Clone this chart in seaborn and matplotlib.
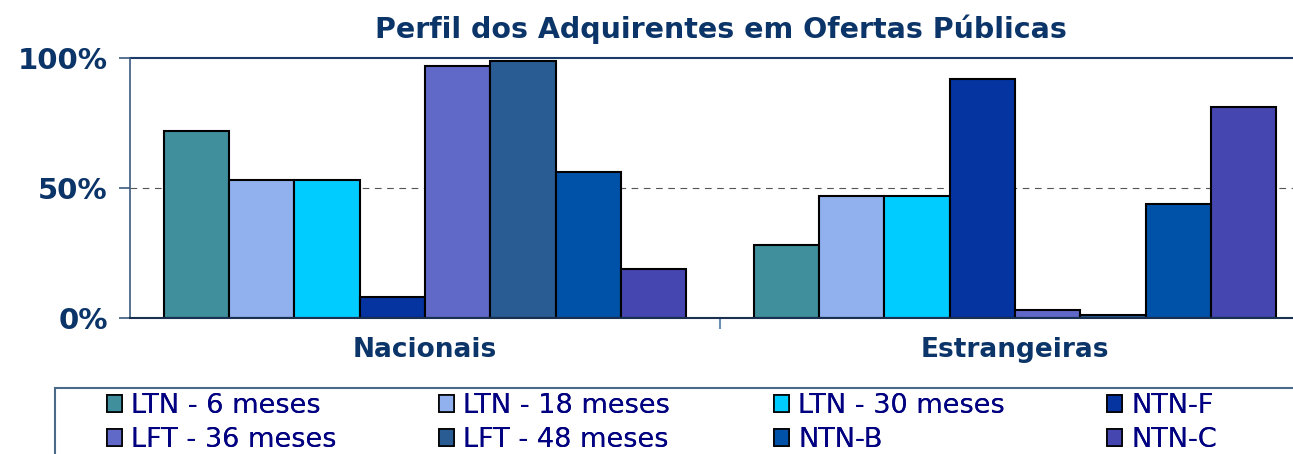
import pandas as pd
import matplotlib.pyplot as plt
import matplotlib.patches as mpatches
from matplotlib.ticker import PercentFormatter, FixedLocator
import seaborn as sns

# dados
grupos = ['Nacionais', 'Estrangeiras']
titulos = ['LTN - 6 meses', 'LTN - 18 meses', 'LTN - 30 meses', 'NTN-F',
           'LFT - 36 meses', 'LFT - 48 meses', 'NTN-B', 'NTN-C']
nacionais = [0.72, 0.53, 0.53, 0.08, 0.97, 0.99, 0.56, 0.19]
estrangeiras = [0.28, 0.47, 0.47, 0.92, 0.03, 0.01, 0.44, 0.81]
cores = ['#3f8f9c', '#90b0ee', '#00ccff', '#0533a0',
         '#6069c8', '#2a5c94', '#0052a8', '#4646b0']

df = pd.DataFrame({
    'grupo': [grupos[0]] * len(titulos) + [grupos[1]] * len(titulos),
    'titulo': titulos + titulos,
    'valor': nacionais + estrangeiras,
})

navy = '#0b3468'
sns.set_theme(style='white')
plt.rcParams['font.family'] = ['DejaVu Sans']

W, H = 1293, 454
fig = plt.figure(figsize=(W / 100, H / 100), dpi=100)
ax = fig.add_axes([130 / W, 1 - 318 / H, 1180 / W, 260 / H])

sns.barplot(data=df, x='grupo', y='valor', hue='titulo', hue_order=titulos,
            palette=cores, width=0.886, edgecolor='black', linewidth=1.5,
            saturation=1, legend=False, ax=ax)

ax.set_xlim(-0.5, 1.5)
ax.set_ylim(0, 1)
ax.set_yticks([0, 0.5, 1])
ax.yaxis.set_major_formatter(PercentFormatter(1.0, decimals=0))
ax.axhline(0.5, color='#555555', ls=(0, (6, 5)), lw=0.8, zorder=0)
ax.axhline(1.0, color='#1a3a6a', lw=1.5, clip_on=False, zorder=0)

for s in ['top', 'right']:
    ax.spines[s].set_visible(False)
ax.spines['left'].set_color('#3c5a80')
ax.spines['left'].set_linewidth(1.2)
ax.spines['bottom'].set_color('#1a3050')
ax.spines['bottom'].set_linewidth(1.5)

ax.tick_params(axis='y', which='major', direction='out', length=8, width=1.2,
               color='#3c5a80', left=True, pad=8,
               labelsize=21, labelcolor=navy)
for t in ax.get_yticklabels():
    t.set_fontweight('bold')
ax.tick_params(axis='x', which='major', length=0, pad=14,
               labelsize=19, labelcolor=navy)
for t in ax.get_xticklabels():
    t.set_fontweight('bold')
ax.xaxis.set_minor_locator(FixedLocator([0.5]))
ax.tick_params(axis='x', which='minor', direction='out', length=8, width=1.5,
               color='#6f8fb0', bottom=True)
ax.set_xlabel('')
ax.set_ylabel('')

fig.text(721 / W, 1 - 29 / H, 'Perfil dos Adquirentes em Ofertas Públicas',
         ha='center', va='center', fontsize=20.5, fontweight='bold', color=navy)

# caixa da legenda
fig.patches.append(mpatches.Rectangle((55 / W, -0.05), 1.0, 0.05 + 1 - 388 / H,
                                      transform=fig.transFigure, fill=False,
                                      edgecolor='#4a6a8a', lw=1.5))

# legenda em 4 colunas, ordem por linha
xs = [107, 439, 774, 1107]
for c in range(4):
    idx = [c, c + 4]
    handles = [mpatches.Patch(facecolor=cores[i], edgecolor='black', lw=1.2)
               for i in idx]
    leg = fig.legend(handles, [titulos[i] for i in idx], loc='upper left',
                     bbox_to_anchor=(xs[c] / W, 1 - 393 / H), frameon=False,
                     fontsize=19.5, labelcolor='#000080', handlelength=0.55,
                     handleheight=0.55, handletextpad=0.35, borderpad=0,
                     borderaxespad=0, labelspacing=0.3)
    fig.add_artist(leg)

fig.savefig('out.png', dpi=100)
